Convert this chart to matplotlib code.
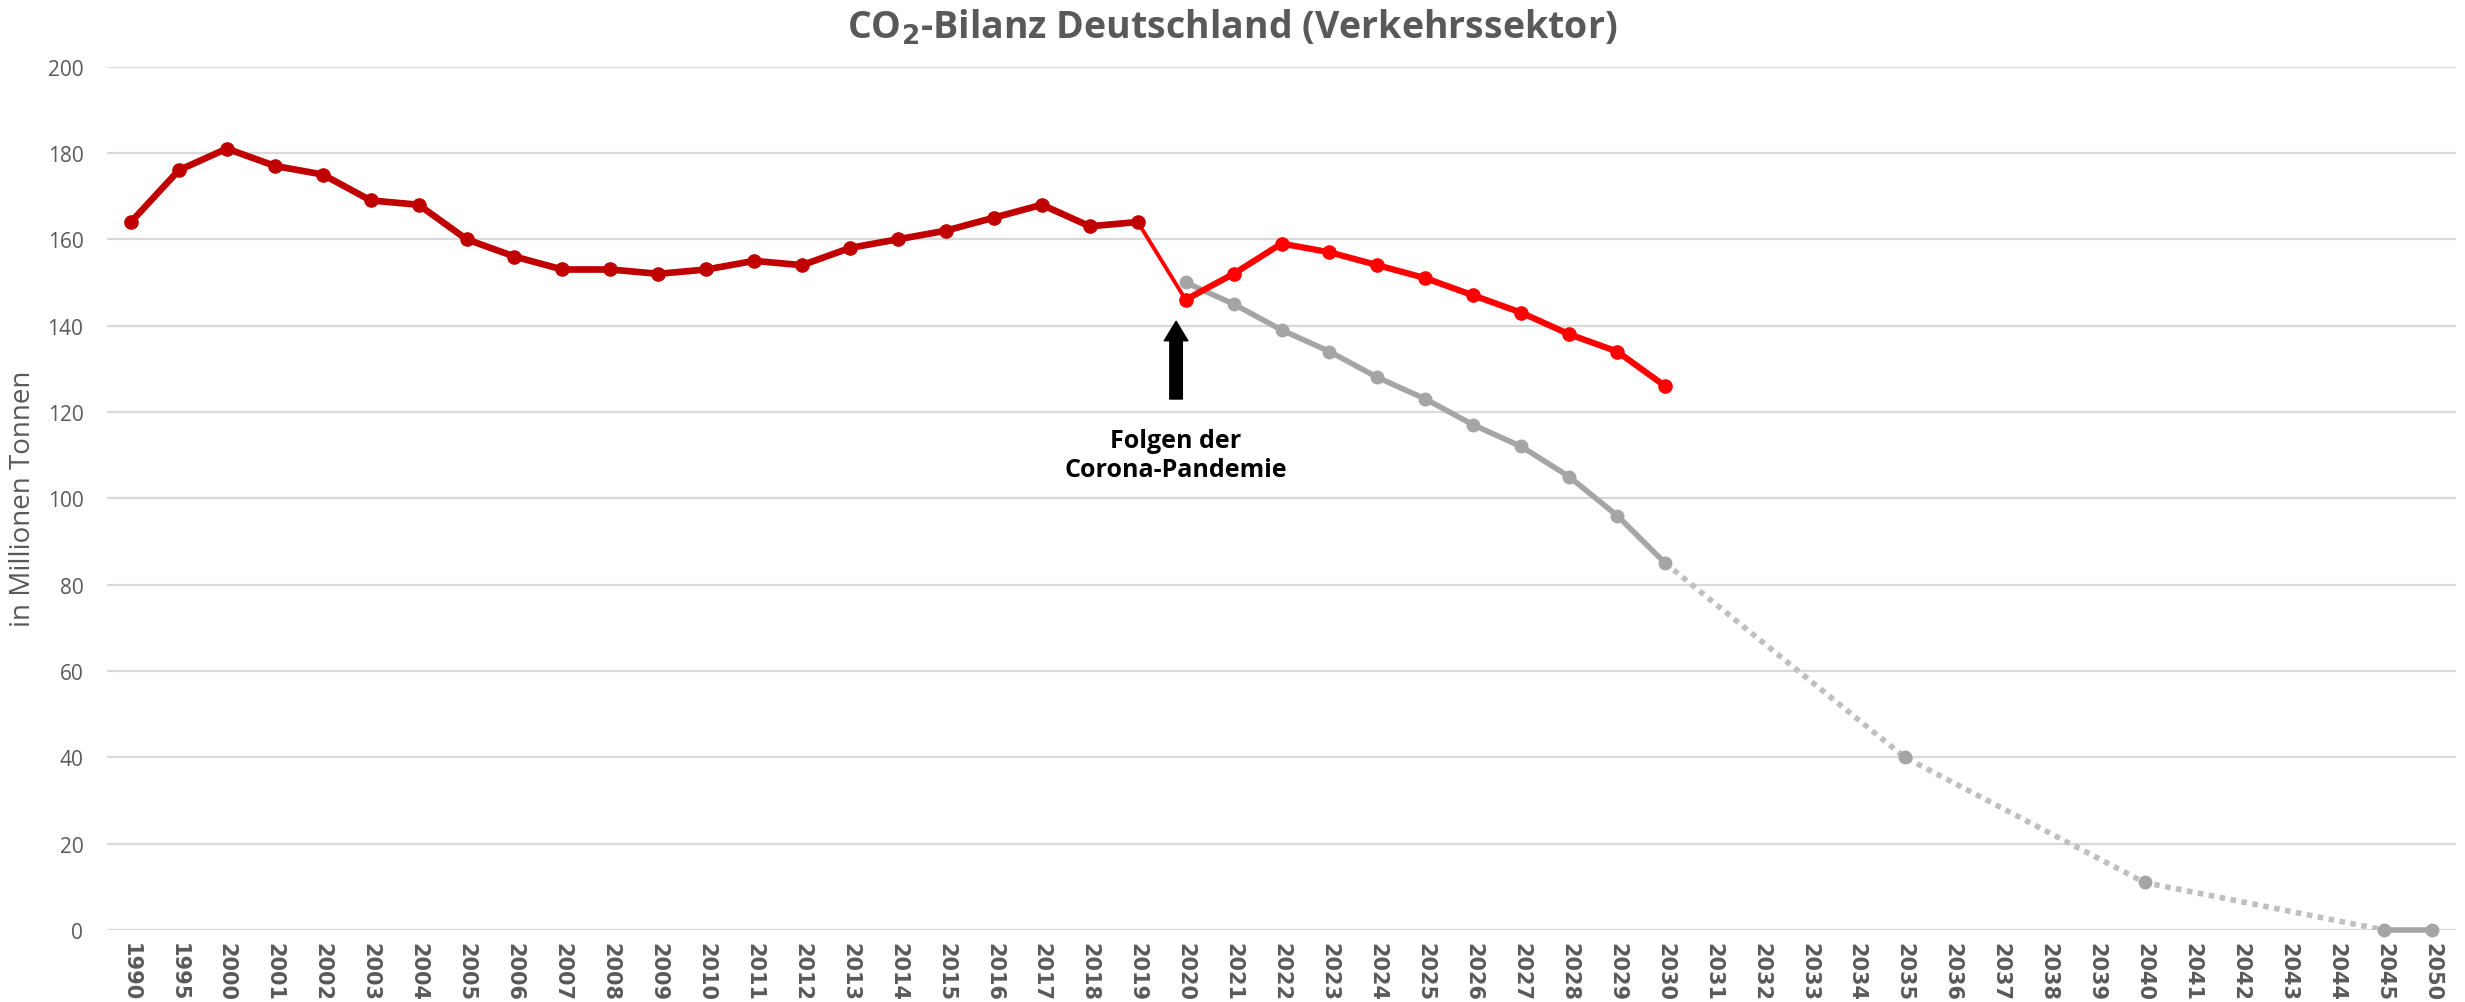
import matplotlib.pyplot as plt

# Kategorien der x-Achse (2046-2049 fehlen im Original)
jahre = ['1990', '1995'] + [str(j) for j in range(2000, 2046)] + ['2050']

# Ist-Werte (dunkelrot)
ist_jahre = ['1990', '1995', '2000', '2001', '2002', '2003', '2004', '2005', '2006', '2007',
             '2008', '2009', '2010', '2011', '2012', '2013', '2014', '2015', '2016', '2017',
             '2018', '2019']
ist_werte = [164, 176, 181, 177, 175, 169, 168, 160, 156, 153,
             153, 152, 153, 155, 154, 158, 160, 162, 165, 168,
             163, 164]

# Prognose (hellrot)
prog_jahre = ['2019', '2020', '2021', '2022', '2023', '2024', '2025', '2026', '2027', '2028',
              '2029', '2030']
prog_werte = [164, 146, 152, 159, 157, 154, 151, 147, 143, 138, 134, 126]

# Zielpfad (grau)
ziel_jahre = ['2020', '2021', '2022', '2023', '2024', '2025', '2026', '2027', '2028', '2029', '2030']
ziel_werte = [150, 145, 139, 134, 128, 123, 117, 112, 105, 96, 85]

# Langfristziel (grau gepunktet)
lang_jahre = ['2030', '2035', '2040', '2045']
lang_werte = [85, 40, 11, 0]

end_jahre = ['2045', '2050']
end_werte = [0, 0]


def pos(liste):
    return [jahre.index(j) for j in liste]


plt.rcParams['font.family'] = ['Open Sans', 'DejaVu Sans']

fig = plt.figure(figsize=(24.65, 10.03), dpi=100)
ax = fig.add_axes([0.0434, 0.0718, 0.9530, 0.8608])

grau = '#A5A5A5'
ax.plot(pos(lang_jahre), lang_werte, color='#BFBFBF', lw=4, ls=(0, (1, 1)),
        dash_capstyle='butt', zorder=2)
ax.plot(pos(lang_jahre)[1:3], lang_werte[1:3], 'o', color=grau, ms=9, zorder=3)
ax.plot(pos(end_jahre), end_werte, '-o', color=grau, lw=4, ms=9, zorder=3, clip_on=False)
ax.plot(pos(ziel_jahre), ziel_werte, '-o', color=grau, lw=4, ms=9, zorder=3)

ax.plot(pos(prog_jahre[:2]), prog_werte[:2], '-', color='#FF0000', lw=2.8, zorder=4)
ax.plot(pos(prog_jahre[1:]), prog_werte[1:], '-o', color='#FF0000', lw=4.5, ms=9.5, zorder=4)
ax.plot(pos(ist_jahre), ist_werte, '-o', color='#C00000', lw=4.8, ms=9.5, zorder=5)

# Pfeil und Hinweis
x_corona = jahre.index('2020') - 0.2
ax.annotate('', xy=(x_corona, 141), xytext=(x_corona, 123),
            arrowprops=dict(arrowstyle='simple,head_length=0.7,head_width=0.85,tail_width=0.45',
                            color='black', mutation_scale=20, shrinkA=0, shrinkB=0))
ax.text(x_corona, 110, 'Folgen der\nCorona-Pandemie', ha='center', va='center',
        fontsize=18, fontweight='bold', color='black', linespacing=1.2)

ax.set_xlim(-0.5, len(jahre) - 0.5)
ax.set_ylim(0, 200)
ax.set_yticks(range(0, 201, 20))
ax.set_xticks(range(len(jahre)))
ax.set_xticklabels(jahre, rotation=270, fontsize=15, fontweight='bold', color='#595959',
                   family='DejaVu Sans')
ax.tick_params(axis='y', length=0, pad=17, labelsize=15, labelcolor='#595959')
ax.tick_params(axis='x', length=0, pad=9)
ax.grid(axis='y', color='#D9D9D9', lw=1.6)
ax.set_axisbelow(True)
for s in ax.spines.values():
    s.set_visible(False)

ax.set_ylabel('in Millionen Tonnen', fontsize=20, color='#595959')
ax.yaxis.set_label_coords(-0.030, 0.5)
fig.text(0.5, 0.972, r'CO$_\mathbf{2}$-Bilanz Deutschland (Verkehrssektor)', ha='center',
         va='center', fontsize=27, fontweight='bold', color='#595959')

fig.savefig('out.png', dpi=100)
